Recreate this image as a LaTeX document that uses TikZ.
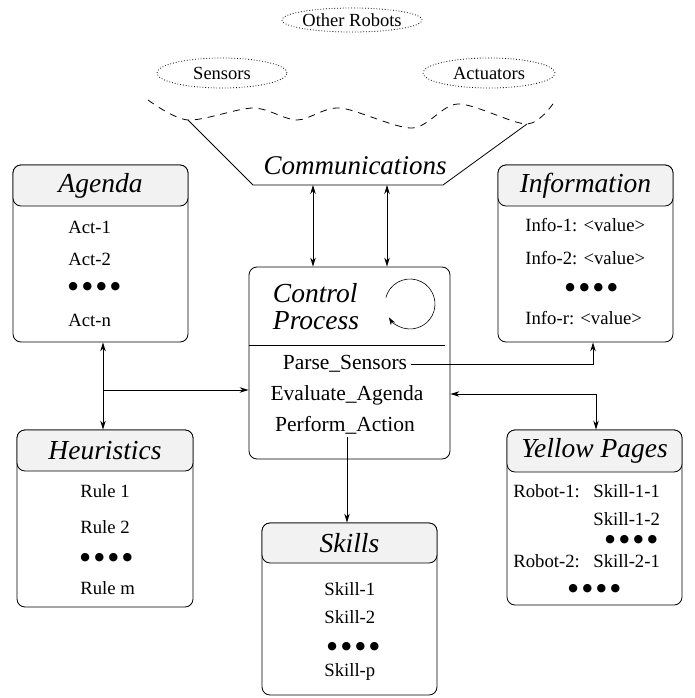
\documentclass[tikz,border=0pt]{standalone}
\usepackage{fontspec}
\setmainfont{Liberation Serif}
\newfontfamily\dejavu{DejaVu Sans}
\usepackage{xcolor}
\usepackage{tikz}
\usetikzlibrary{arrows.meta,shapes.geometric}
\definecolor{HeadGray}{HTML}{F2F2F2}
\newcommand{\dotrow}{{\dejavu\fontsize{11}{11}\selectfont ●\kern4.5pt●\kern4.5pt●\kern4.5pt●}}

\begin{document}
\begin{tikzpicture}[x=1pt,y=1pt,line width=0.8pt,
  arr/.style={-{Stealth[length=9pt,width=5.5pt]}},
  dbl/.style={{Stealth[length=9pt,width=5.5pt]}-{Stealth[length=9pt,width=5.5pt]}},
  cloud/.style={ellipse,draw,dotted,inner sep=0pt,font=\fontsize{18.5}{20}\selectfont},
  panel/.style={draw,rounded corners=8pt,minimum width=175pt,inner sep=0pt},
  head/.style={draw,fill=HeadGray,rounded corners=8pt,minimum width=175pt,
               minimum height=41pt,anchor=north,inner sep=0pt,
               font=\fontsize{27.5}{29}\selectfont\itshape},
  item/.style={anchor=west,inner sep=0pt,font=\fontsize{18.7}{21}\selectfont},
  task/.style={inner sep=3pt,font=\fontsize{21.5}{24}\selectfont}
]
  \useasboundingbox (0,0) rectangle (694,-698);

  \node[cloud,minimum width=131pt,minimum height=24pt] (others) at (352,-20) {Other Robots};
  \node[cloud,minimum width=130pt,minimum height=30pt] (sensors) at (222,-73) {Sensors};
  \node[cloud,minimum width=132pt,minimum height=30pt] (actuators) at (489,-73) {Actuators};

  \draw[dash pattern=on 7pt off 6pt] plot[smooth] coordinates {(148,-100) (188,-120) (253,-108)
    (297,-120) (340,-108) (412,-128) (458,-104) (527,-124) (555,-101)};
  \draw (188,-120) -- (253,-185) -- (443,-185) -- (527,-124);
  \node[font=\fontsize{27}{29}\selectfont\itshape] (comm) at (355,-166) {Communications};

  % agenda
  \node[panel,minimum height=177pt] (agenda) at (100.5,-253.5) {};
  \node[head] (agendahead) at (agenda.north) {Agenda};
  \node[item] (act1) at (68,-227) {Act-1};
  \node[item] (act2) at (68,-259) {Act-2};
  \node[item] (actdots) at (68,-287) {\dotrow};
  \node[item] (actn) at (68,-320) {Act-n};

  % information
  \node[panel,minimum height=177pt] (info) at (585.5,-253.5) {};
  \node[head] (infohead) at (info.north) {Information};
  \node[item] (info1) at (525,-225) {Info-1: <value>};
  \node[item] (info2) at (525,-258) {Info-2: <value>};
  \node[item] (infodots) at (565,-288) {\dotrow};
  \node[item] (infor) at (525,-318) {Info-r: <value>};

  % control process
  \node[panel,minimum width=201pt,minimum height=192pt] (ctrl) at (349.5,-363) {};
  \node[align=left,font=\fontsize{27.5}{27}\selectfont\itshape] (ctrltitle) at (316,-307) {Control\\Process};
  \draw[-{Stealth[length=8pt,width=5pt]},line width=0.6pt] (410,-304) ++(165:25) arc[start angle=165,end angle=-148,radius=25];
  \draw (249,-345) -- (445,-345);
  \node[task] (parse) at (345,-364) {Parse\_Sensors};
  \node[task] (evaluate) at (347,-395) {Evaluate\_Agenda};
  \node[task] (perform) at (345,-425) {Perform\_Action};

  % heuristics
  \node[panel,minimum width=176pt,minimum height=177pt] (heur) at (105,-518.5) {};
  \node[head,minimum width=176pt] (heurhead) at (heur.north) {Heuristics};
  \node[item] (rule1) at (80,-491) {Rule 1};
  \node[item] (rule2) at (80,-527) {Rule 2};
  \node[item] (ruledots) at (80,-558) {\dotrow};
  \node[item] (rulem) at (80,-588) {Rule m};

  % yellow pages
  \node[panel,minimum height=175pt] (yellow) at (594.5,-517.5) {};
  \node[head,minimum height=42pt] (yellowhead) at (yellow.north) {Yellow Pages};
  \node[item] (robot1) at (513,-491) {Robot-1:};
  \node[item] (skill11) at (593,-491) {Skill-1-1};
  \node[item] (skill12) at (593,-519) {Skill-1-2};
  \node[item] (ypdots1) at (605,-540) {\dotrow};
  \node[item] (robot2) at (513,-561) {Robot-2:};
  \node[item] (skill21) at (593,-561) {Skill-2-1};
  \node[item] (ypdots2) at (568,-589) {\dotrow};

  % skills
  \node[panel,minimum height=172pt] (skills) at (349.5,-609) {};
  \node[head,minimum height=40pt] (skillshead) at (skills.north) {Skills};
  \node[item] (skill1) at (324,-589) {Skill-1};
  \node[item] (skill2) at (324,-617) {Skill-2};
  \node[item] (skilldots) at (327,-647) {\dotrow};
  \node[item] (skillp) at (324,-672) {Skill-p};

  \coordinate (commL) at (313,-185);
  \coordinate (commR) at (387,-185);
  \coordinate (ah) at (103,-390);
  \coordinate (ip) at (593,-365);
  \coordinate (yp) at (596,-394);

  \draw[dbl] (commL) -- (commL |- ctrl.north);
  \draw[dbl] (commR) -- (commR |- ctrl.north);
  \draw[dbl] (ah |- agenda.south) -- (ah |- heur.north);
  \draw[arr] (ah) -- (ah -| ctrl.west);
  \draw[arr] (parse.east) -| (ip |- info.south);
  \draw[dbl] (yp -| ctrl.east) -- (yp) -- (yp |- yellow.north);
  \draw[arr] ([xshift=2pt]perform.south) -- ([xshift=2pt]perform.south |- skills.north);

\end{tikzpicture}
\end{document}
